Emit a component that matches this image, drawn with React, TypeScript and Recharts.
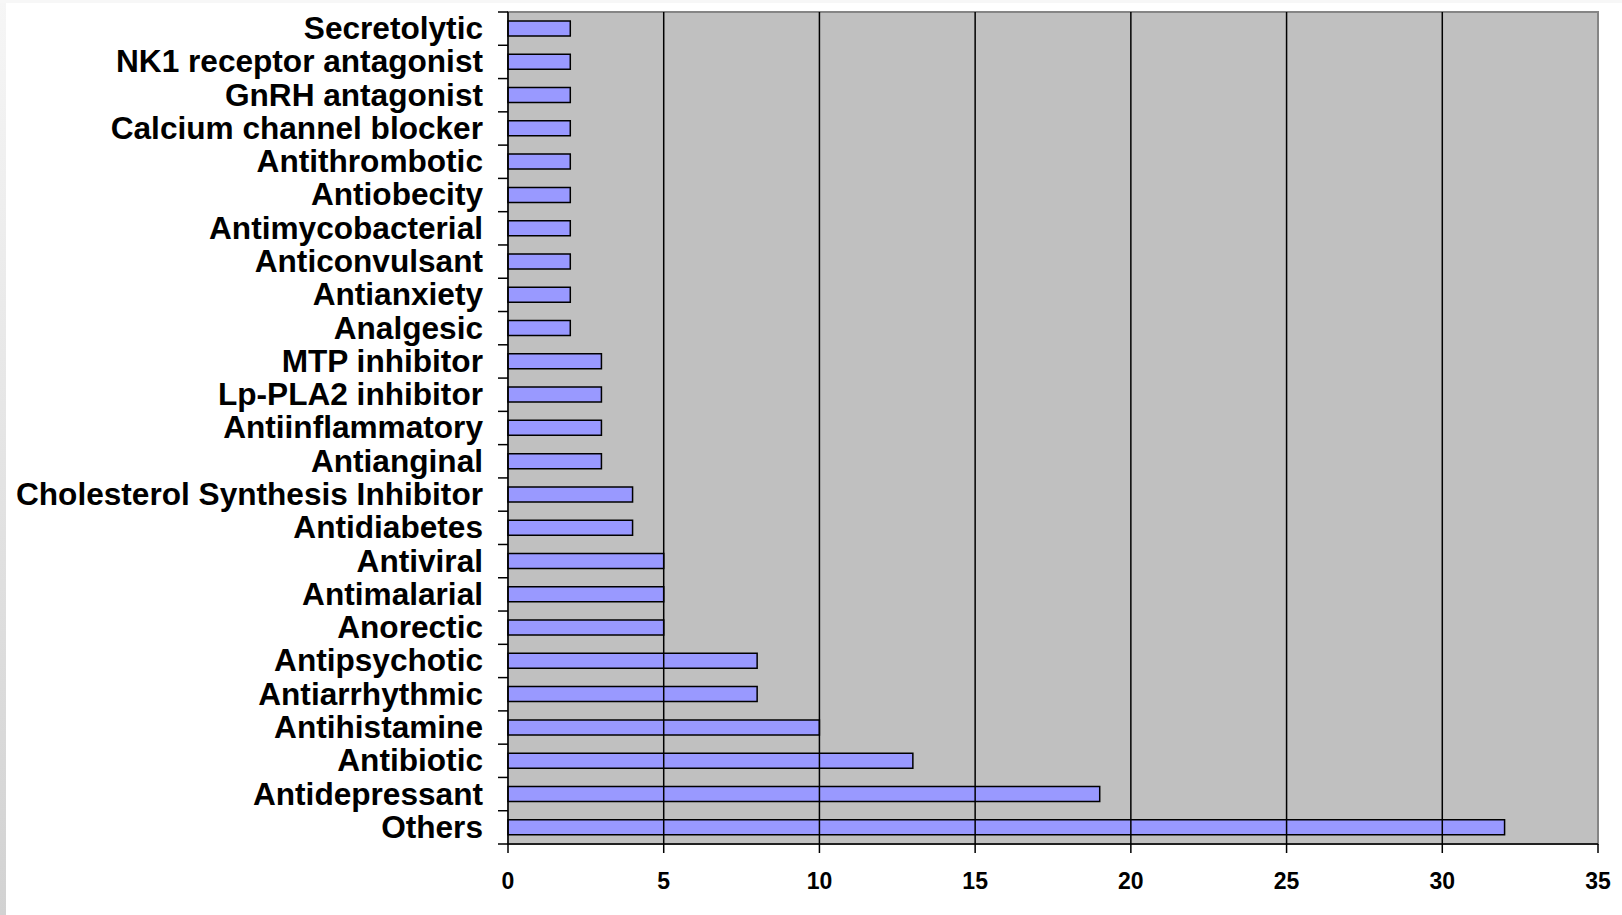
import { Bar, BarChart, ReferenceArea, ReferenceLine, XAxis, YAxis } from "recharts"

const categories = [
  "Secretolytic",
  "NK1 receptor antagonist",
  "GnRH antagonist",
  "Calcium channel blocker",
  "Antithrombotic",
  "Antiobecity",
  "Antimycobacterial",
  "Anticonvulsant",
  "Antianxiety",
  "Analgesic",
  "MTP inhibitor",
  "Lp-PLA2 inhibitor",
  "Antiinflammatory",
  "Antianginal",
  "Cholesterol Synthesis Inhibitor",
  "Antidiabetes",
  "Antiviral",
  "Antimalarial",
  "Anorectic",
  "Antipsychotic",
  "Antiarrhythmic",
  "Antihistamine",
  "Antibiotic",
  "Antidepressant",
  "Others",
]

const counts = [2, 2, 2, 2, 2, 2, 2, 2, 2, 2, 3, 3, 3, 3, 4, 4, 5, 5, 5, 8, 8, 10, 13, 19, 32]

const xTicks = [0, 5, 10, 15, 20, 25, 30, 35]
const gridValues = [5, 10, 15, 20, 25, 30]

const data = categories.map((name, i) => ({ name, total: counts[i] }))

const W = 1622
const H = 915
const AXIS_W = 508
const TOP = 12
const PLOT_BOTTOM = 844
const BAND = (PLOT_BOTTOM - TOP) / categories.length
const FONT = '"Liberation Sans", Arial, sans-serif'

// text is a bit stretched in the original, so scale around the right end
function CategoryTick(props: any) {
  const { y, payload, index } = props
  const ax = AXIS_W
  const tx = ax - 25
  return (
    <g>
      <text
        x={tx}
        y={y}
        textAnchor="end"
        dominantBaseline="central"
        fontFamily={FONT}
        fontWeight="bold"
        fontSize={29}
        fill="#000"
        transform={`translate(${tx} ${y}) scale(1.09 1.08) translate(${-tx} ${-y})`}
      >
        {payload.value}
      </text>
      <line x1={ax - 10} x2={ax} y1={y - BAND / 2} y2={y - BAND / 2} stroke="#000" strokeWidth={1.5} />
      {index === categories.length - 1 && (
        <line x1={ax - 10} x2={ax} y1={y + BAND / 2} y2={y + BAND / 2} stroke="#000" strokeWidth={1.5} />
      )}
    </g>
  )
}

export default function App() {
  return (
    <div style={{ position: "fixed", left: 0, top: 0, width: W, height: H, background: "#fff" }}>
      <div
        style={{
          position: "absolute",
          left: 0,
          top: 0,
          width: 6,
          height: H,
          background: "linear-gradient(#f6f6f6, #d2d2d2)",
        }}
      />
      <div style={{ position: "absolute", left: 0, top: 0, width: W, height: 3, background: "#f7f7f7" }} />
      <div style={{ position: "absolute", left: 0, top: 0 }}>
        <BarChart
          width={W}
          height={H}
          data={data}
          layout="vertical"
          barSize={15}
          margin={{ top: TOP, right: 24, bottom: H - PLOT_BOTTOM - 45, left: 0 }}
        >
          <XAxis
            type="number"
            domain={[0, 35]}
            ticks={xTicks}
            interval={0}
            tickSize={9}
            tickMargin={20}
            height={45}
            axisLine={{ stroke: "#000", strokeWidth: 1.5 }}
            tickLine={{ stroke: "#000", strokeWidth: 1.5 }}
            tick={{ fill: "#000", fontSize: 23, fontWeight: "bold", fontFamily: FONT }}
          />
          <YAxis
            type="category"
            dataKey="name"
            width={AXIS_W}
            interval={0}
            tickLine={false}
            axisLine={{ stroke: "#000", strokeWidth: 1.5 }}
            tick={<CategoryTick />}
          />
          <ReferenceArea x1={0} x2={35} fill="#c0c0c0" fillOpacity={1} stroke="#858585" strokeWidth={2} />
          {gridValues.map((v) => (
            <ReferenceLine key={v} x={v} stroke="#000" strokeWidth={1.5} />
          ))}
          <Bar dataKey="total" fill="#9999ff" stroke="#000" strokeWidth={1.5} isAnimationActive={false} />
        </BarChart>
      </div>
    </div>
  )
}
